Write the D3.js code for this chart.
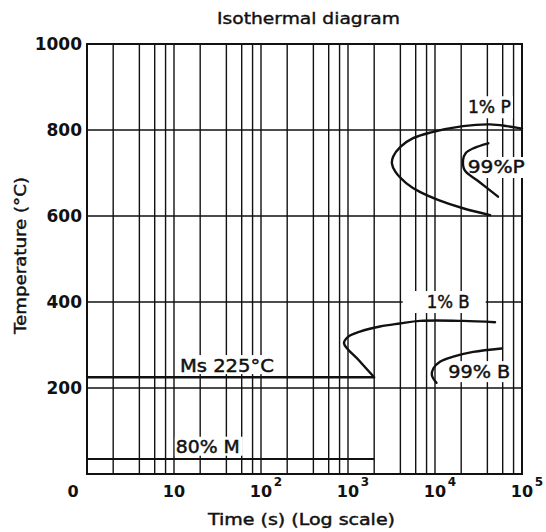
<!DOCTYPE html>
<html>
<head>
<meta charset="utf-8">
<script src="https://cdn.jsdelivr.net/npm/d3@7"></script>
<style>
  html, body { margin: 0; padding: 0; background: #fff; }
  svg { display: block; }
  text { font-family: "DejaVu Sans", sans-serif; fill: #111; }
</style>
</head>
<body>
<svg id="chart" width="546" height="532"></svg>
<script>
// Temperature axis (°C)
const tempTicks = [0, 200, 400, 600, 800, 1000];
const tempGrid = [200, 400, 600, 800];

// Time axis (s), logarithmic
const timeTicks = [1, 10, 100, 1000, 10000, 100000];
const timeTickBase = ["0", "10", "10", "10", "10", "10"];
const timeTickExp = ["", "", "2", "3", "4", "5"];
const gridDecades = [1, 10, 100, 1000, 10000];
const gridMultipliers = [2, 4, 6, 8, 10];

// Martensite lines
const msTemp = 225;
const m80Temp = 35;
const martensiteEnd = 2000;

// Transformation curves, [time (s), temperature (°C)]
const pearliteStart = [
  [100000, 803], [67000, 809], [43000, 813], [21000, 809], [8800, 794],
  [5600, 781], [4000, 761], [3300, 738], [3200, 722], [3500, 703],
  [4700, 676], [6700, 656], [11000, 637], [21000, 618], [43000, 602]
];
const pearliteFinish = [
  [41000, 769], [28000, 758], [22500, 746], [21000, 730], [22000, 706],
  [31000, 682], [53000, 645]
];
const bainiteStart = [
  [2000, 225], [1340, 264], [900, 304], [1000, 319], [1370, 331],
  [2330, 343], [3960, 350], [6730, 356], [21000, 356], [49000, 353]
];
const bainiteFinish = [
  [10400, 212], [9200, 230], [9600, 246], [11400, 261], [16200, 273],
  [27500, 284], [58000, 292]
];

// Curve labels and their anchor points [time, temperature]
const labelTexts = ["1% P", "99%P", "1% B", "99% B", "Ms 225°C", "80% M"];
const labelAnchors = [[23900, 839], [23800, 700], [8030, 386], [14200, 223], [11.7, 237], [10.5, 49.5]];

const svg = d3.select("#chart");
const x = d3.scaleLog().domain([1, 100000]).range([87, 522]);
const y = d3.scaleLinear().domain([0, 1000]).range([474, 44]);

const ink = "#111";

// Vertical gridlines
const vGrid = [];
gridDecades.forEach(d => gridMultipliers.forEach(m => {
  const v = d * m;
  if (v < 100000) vGrid.push(v);
}));
svg.append("g").selectAll("line").data(vGrid).join("line")
  .attr("x1", d => x(d)).attr("x2", d => x(d))
  .attr("y1", y(0)).attr("y2", y(1000))
  .attr("stroke", ink).attr("stroke-width", 1.4);

// Horizontal gridlines
svg.append("g").selectAll("line").data(tempGrid).join("line")
  .attr("x1", x(1)).attr("x2", x(100000))
  .attr("y1", d => y(d)).attr("y2", d => y(d))
  .attr("stroke", ink).attr("stroke-width", 1.7);

// Frame
svg.append("rect")
  .attr("x", x(1)).attr("y", y(1000))
  .attr("width", x(100000) - x(1)).attr("height", y(0) - y(1000))
  .attr("fill", "none").attr("stroke", ink).attr("stroke-width", 2);

// Curve labels with white backing that interrupts the grid
const labelSizes = [
  { w: 43, padL: 2, padR: 2, padT: 3, padB: 3 },
  { w: 57, padL: 1, padR: 0, padT: 2, padB: 3 },
  { w: 43, padL: 24, padR: 16, padT: 3, padB: 3 },
  { w: 62, padL: 2, padR: 2, padT: 3, padB: 2 },
  { w: 94, padL: 2, padR: 3, padT: 3, padB: 0 },
  { w: 64, padL: 1, padR: 3, padT: 2, padB: 1 }
];
const boxLayer = svg.append("g");
const lineLayer = svg.append("g");
const textLayer = svg.append("g");

labelTexts.forEach((t, i) => {
  const s = labelSizes[i];
  const tx = textLayer.append("text")
    .attr("x", x(labelAnchors[i][0]))
    .attr("y", y(labelAnchors[i][1]))
    .attr("font-size", 17)
    .attr("textLength", s.w)
    .attr("lengthAdjust", "spacingAndGlyphs")
    .attr("stroke", ink).attr("stroke-width", 0.45)
    .text(t);
  const bb = tx.node().getBBox();
  boxLayer.append("rect")
    .attr("x", bb.x - s.padL).attr("y", bb.y + 2 - s.padT)
    .attr("width", bb.width + s.padL + s.padR)
    .attr("height", bb.height - 4 + s.padT + s.padB)
    .attr("fill", "#fff");
});

// Martensite start and 80% martensite lines
lineLayer.append("line")
  .attr("x1", x(1)).attr("x2", x(martensiteEnd))
  .attr("y1", y(msTemp)).attr("y2", y(msTemp))
  .attr("stroke", ink).attr("stroke-width", 2.4);
lineLayer.append("line")
  .attr("x1", x(1)).attr("x2", x(martensiteEnd))
  .attr("y1", y(m80Temp)).attr("y2", y(m80Temp))
  .attr("stroke", ink).attr("stroke-width", 2);

// Transformation curves
const curve = d3.line()
  .x(d => x(d[0])).y(d => y(d[1]))
  .curve(d3.curveCatmullRom.alpha(0.5));
[pearliteStart, pearliteFinish, bainiteStart, bainiteFinish].forEach(c => {
  lineLayer.append("path").datum(c)
    .attr("d", curve)
    .attr("fill", "none").attr("stroke", ink)
    .attr("stroke-width", 2.4).attr("stroke-linejoin", "round").attr("stroke-linecap", "round");
});

// Temperature tick labels
svg.append("g").selectAll("text").data(tempTicks.filter(d => d > 0)).join("text")
  .attr("x", 82).attr("y", d => y(d)).attr("dy", "0.36em")
  .attr("text-anchor", "end")
  .attr("font-size", 17).attr("font-weight", "bold")
  .text(d => d);

// Time tick labels: "10" centred on the tick, exponent raised after it
const tickY = 497;
timeTicks.forEach((v, i) => {
  const px = i === 0 ? x(v) - 14 : x(v);
  const base = svg.append("text")
    .attr("x", px).attr("y", tickY)
    .attr("text-anchor", "middle")
    .attr("font-size", 16).attr("font-weight", "bold")
    .text(timeTickBase[i]);
  if (timeTickExp[i]) {
    const w = base.node().getComputedTextLength();
    svg.append("text")
      .attr("x", px + w / 2 + 1.5).attr("y", tickY - 11)
      .attr("font-size", 12).attr("font-weight", "bold")
      .text(timeTickExp[i]);
  }
});

// Titles
svg.append("text")
  .attr("x", 217).attr("y", 24)
  .attr("font-size", 16.5)
  .attr("textLength", 183).attr("lengthAdjust", "spacingAndGlyphs")
  .attr("stroke", ink).attr("stroke-width", 0.4)
  .text("Isothermal diagram");

svg.append("text")
  .attr("x", 208).attr("y", 525)
  .attr("font-size", 16)
  .attr("textLength", 187).attr("lengthAdjust", "spacingAndGlyphs")
  .attr("stroke", ink).attr("stroke-width", 0.45)
  .text("Time (s) (Log scale)");

svg.append("text")
  .attr("transform", "translate(26,255.5) rotate(-90)")
  .attr("text-anchor", "middle")
  .attr("font-size", 16)
  .attr("textLength", 157).attr("lengthAdjust", "spacingAndGlyphs")
  .attr("stroke", ink).attr("stroke-width", 0.45)
  .text("Temperature (°C)");
</script>
</body>
</html>
